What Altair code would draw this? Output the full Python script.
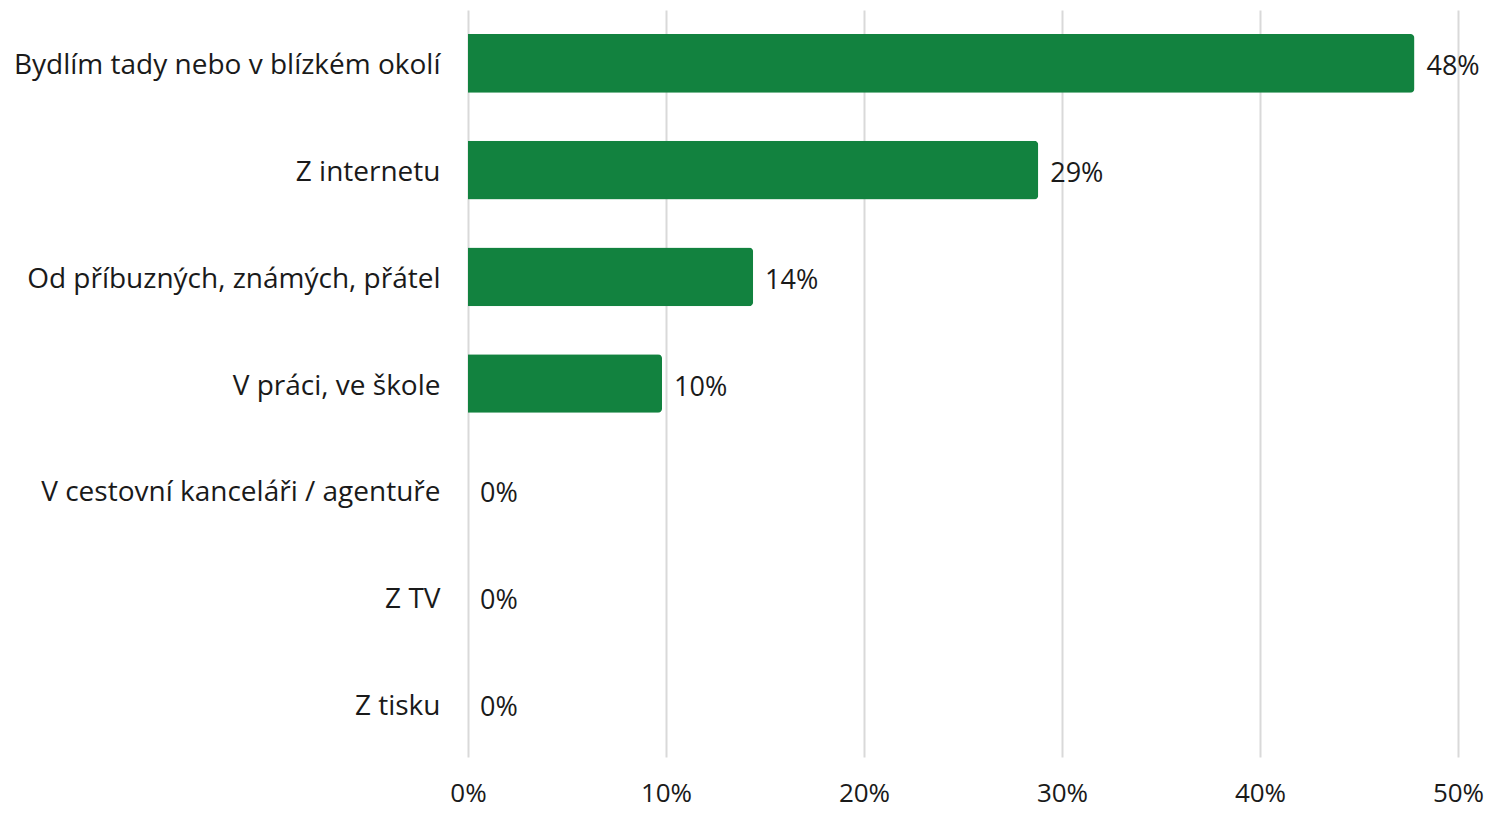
import altair as alt
import pandas as pd

categories = [
    "Bydlím tady nebo v blízkém okolí",
    "Z internetu",
    "Od příbuzných, známých, přátel",
    "V práci, ve škole",
    "V cestovní kanceláři / agentuře",
    "Z TV",
    "Z tisku",
]
values = [47.8, 28.8, 14.4, 9.8, 0.0, 0.0, 0.0]
value_labels = ["48%", "29%", "14%", "10%", "0%", "0%", "0%"]
x_ticks = [0, 10, 20, 30, 40, 50]

df = pd.DataFrame({"cat": categories, "val": values, "lab": value_labels})

FONT = "Open Sans"
TXT = "#1a1a1a"

y_enc = alt.Y(
    "cat:N",
    sort=categories,
    title=None,
    scale=alt.Scale(paddingInner=0.45, paddingOuter=0.225),
    axis=alt.Axis(
        domain=False,
        ticks=False,
        labelFont=FONT,
        labelFontSize=28,
        labelColor=TXT,
        labelPadding=28,
        labelOffset=3,
        labelLimit=600,
    ),
)
x_enc = alt.X(
    "val:Q",
    title=None,
    scale=alt.Scale(domain=[0, 50], nice=False),
    axis=alt.Axis(
        values=x_ticks,
        labelExpr="datum.value + '%'",
        domain=False,
        ticks=False,
        grid=True,
        gridColor="#d9d9d9",
        gridWidth=2,
        labelFlush=False,
        labelFont=FONT,
        labelFontSize=26,
        labelColor=TXT,
        labelPadding=23,
    ),
)

bars = alt.Chart(df).mark_bar(
    color="#12823F", cornerRadiusTopRight=4, cornerRadiusBottomRight=4
).encode(y=y_enc, x=x_enc)

labels = alt.Chart(df).mark_text(
    align="left", baseline="middle", dx=12, dy=4, font=FONT, fontSize=27, color=TXT
).encode(y=alt.Y("cat:N", sort=categories), x="val:Q", text="lab:N")

chart = (
    alt.layer(bars, labels)
    .properties(
        width=990,
        height=747,
        autosize=alt.AutoSizeParams(type="none"),
        padding={"left": 460, "top": 2, "right": 26, "bottom": 51},
    )
    .configure_view(stroke=None)
)

chart.save("out.html", embed_options={"renderer": "svg", "actions": False})
